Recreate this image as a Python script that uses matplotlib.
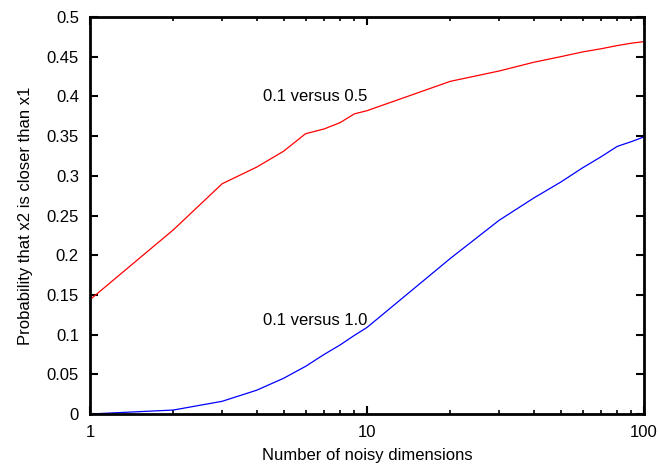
import matplotlib
matplotlib.use("Agg")
import matplotlib.pyplot as plt
from matplotlib.ticker import LogLocator, FixedLocator, FixedFormatter, NullFormatter

plt.rcParams["font.family"] = ["Liberation Sans", "DejaVu Sans"]

# Data
dims = [1, 2, 3, 4, 5, 6, 7, 8, 9, 10, 20, 30, 40, 50, 60, 70, 80, 90, 100]
p_01_vs_05 = [0.144, 0.232, 0.290, 0.311, 0.331, 0.353, 0.359, 0.367, 0.378, 0.382,
              0.419, 0.432, 0.443, 0.450, 0.456, 0.460, 0.464, 0.467, 0.469]
p_01_vs_10 = [0.0, 0.005, 0.016, 0.030, 0.045, 0.060, 0.075, 0.087, 0.099, 0.109,
              0.196, 0.244, 0.272, 0.292, 0.310, 0.324, 0.337, 0.343, 0.349]

y_ticks = [0, 0.05, 0.1, 0.15, 0.2, 0.25, 0.3, 0.35, 0.4, 0.45, 0.5]
y_tick_labels = ["0", "0.05", "0.1", "0.15", "0.2", "0.25", "0.3", "0.35", "0.4", "0.45", "0.5"]
x_ticks = [1, 10, 100]
x_tick_labels = ["1", "10", "100"]

fig = plt.figure(figsize=(6.59, 4.66), dpi=100)
ax = fig.add_axes([90 / 659, 52 / 466, 554 / 659, 397 / 466])

ax.plot(dims, p_01_vs_05, color="#ff0000", linewidth=0.9)
ax.plot(dims, p_01_vs_10, color="#0000ff", linewidth=0.9)

ax.set_xscale("log")
ax.set_xlim(1, 100)
ax.set_ylim(0, 0.5)

ax.xaxis.set_major_locator(FixedLocator(x_ticks))
ax.xaxis.set_major_formatter(FixedFormatter(x_tick_labels))
ax.xaxis.set_minor_locator(LogLocator(base=10, subs=range(2, 10)))
ax.xaxis.set_minor_formatter(NullFormatter())
ax.yaxis.set_major_locator(FixedLocator(y_ticks))
ax.yaxis.set_major_formatter(FixedFormatter(y_tick_labels))

ax.tick_params(which="major", direction="in", length=6, width=1.5,
               top=True, right=True, labelsize=12, pad=8, colors="black")
ax.tick_params(which="minor", direction="in", length=3, width=1.2,
               top=True, right=True)
for s in ax.spines.values():
    s.set_linewidth(2.0)

ax.text(4.2, 0.40, "0.1 versus 0.5", fontsize=12, va="center", ha="left")
ax.text(4.2, 0.118, "0.1 versus 1.0", fontsize=12, va="center", ha="left")

ax.set_xlabel("Number of noisy dimensions", fontsize=12, labelpad=6)
ax.set_ylabel("Probability that x2 is closer than x1", fontsize=12, labelpad=10)

fig.savefig("out.png", dpi=100)
